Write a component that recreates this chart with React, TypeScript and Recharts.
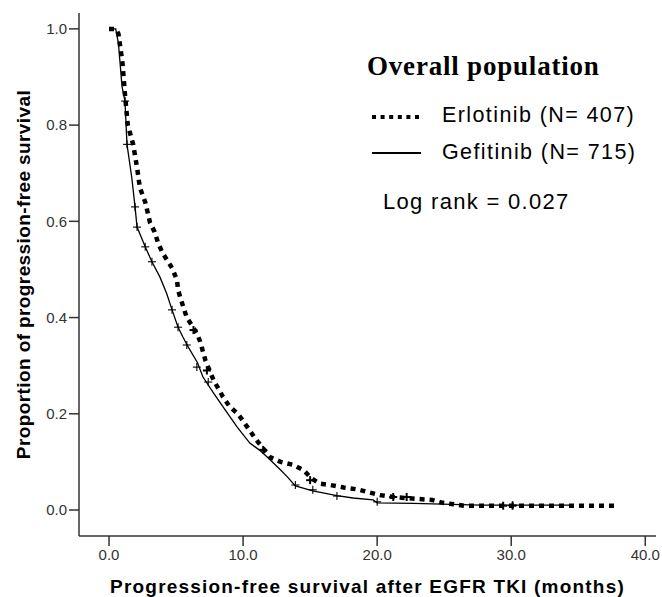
import { ComposedChart, Line, Scatter, XAxis, YAxis } from "recharts";

// Kaplan-Meier estimates (months, proportion)
const erlotinibTime = [
  0, 0.5, 0.7, 0.85, 1.0, 1.2, 1.4, 1.6, 1.8, 2.1, 2.3, 2.7, 3.06, 3.4, 3.66, 4.0, 4.7, 5.07,
  5.15, 5.45, 5.8, 6.27, 6.6, 6.8, 7.2, 7.5, 7.8, 8.2, 8.5, 9.0, 9.6, 10.0, 10.5, 11.0, 11.3,
  12.0, 12.8, 13.7, 14.5, 15.1, 15.7, 16.5, 17.5, 18.5, 19.2, 20.2, 21.2, 23.0, 24.1, 24.9,
  26.5, 37.8,
];
const erlotinibSurv = [
  1.0, 1.0, 0.99, 0.96, 0.93, 0.86, 0.8, 0.78, 0.76, 0.71, 0.67, 0.64, 0.597, 0.578, 0.555,
  0.534, 0.503, 0.478, 0.457, 0.43, 0.4, 0.38, 0.364, 0.35, 0.31, 0.29, 0.27, 0.25, 0.235,
  0.215, 0.2, 0.185, 0.165, 0.145, 0.135, 0.11, 0.1, 0.094, 0.083, 0.066, 0.055, 0.052,
  0.047, 0.043, 0.038, 0.031, 0.027, 0.023, 0.021, 0.015, 0.009, 0.009,
];
const erlotinibCensorTime = [6.3, 7.3, 11.5, 15.0, 21.2, 22.2, 29.4, 30.1];
const erlotinibCensorSurv = [0.374, 0.29, 0.125, 0.062, 0.027, 0.027, 0.009, 0.009];

const gefitinibTime = [
  0, 0.5, 0.7, 0.97, 1.19, 1.34, 1.7, 1.94, 2.09, 2.7, 3.2, 3.8, 4.3, 4.7, 5.15, 5.5, 5.9,
  6.6, 7.0, 7.8, 8.66, 9.55, 10.5, 11.2, 11.8, 12.8, 13.3, 13.9, 15.2, 17.0, 18.2, 19.7,
  20.0, 22.7, 27.7, 34.6,
];
const gefitinibSurv = [
  1.0, 1.0, 0.97, 0.88, 0.85, 0.76, 0.69, 0.63, 0.588, 0.547, 0.516, 0.484, 0.45, 0.416,
  0.38, 0.36, 0.339, 0.306, 0.277, 0.243, 0.208, 0.173, 0.139, 0.125, 0.11, 0.083, 0.069,
  0.05, 0.04, 0.03, 0.025, 0.021, 0.015, 0.014, 0.01, 0.01,
];
const gefitinibCensorTime = [1.2, 1.34, 1.94, 2.09, 2.7, 3.2, 4.7, 5.15, 5.8, 6.55, 7.4, 13.9, 15.2, 17.0, 20.0, 30.1];
const gefitinibCensorSurv = [0.85, 0.76, 0.63, 0.588, 0.547, 0.516, 0.416, 0.38, 0.343, 0.297, 0.266, 0.052, 0.042, 0.029, 0.017, 0.01];

const xTicks = [0, 10, 20, 30, 40];
const yTicks = [0, 0.2, 0.4, 0.6, 0.8, 1.0];

const zip = (t: number[], s: number[]) => t.map((v, i) => ({ t: v, s: s[i] }));

const erlotinib = zip(erlotinibTime, erlotinibSurv);
const gefitinib = zip(gefitinibTime, gefitinibSurv);
const erlotinibCensor = zip(erlotinibCensorTime, erlotinibCensorSurv);
const gefitinibCensor = zip(gefitinibCensorTime, gefitinibCensorSurv);

const axisColor = "#333";
const tickStyle = { fontSize: 15, fill: "#333", fontFamily: "Liberation Sans, Arial, sans-serif" };

function Plus(props: any) {
  const { cx, cy, size = 4, width = 1.2 } = props;
  if (cx == null || cy == null) return null;
  return (
    <g stroke="#000" strokeWidth={width}>
      <line x1={cx - size} y1={cy} x2={cx + size} y2={cy} />
      <line x1={cx} y1={cy - size} x2={cx} y2={cy + size} />
    </g>
  );
}

export default function App() {
  return (
    <div
      style={{
        position: "absolute",
        left: 0,
        top: 0,
        width: 662,
        height: 597,
        background: "#fff",
        fontFamily: "Liberation Sans, Arial, sans-serif",
      }}
    >
      <ComposedChart width={662} height={597} margin={{ top: 13, right: 6, bottom: 0, left: 19 }}>
        <XAxis
          dataKey="t"
          type="number"
          domain={[-2.24, 40.8]}
          ticks={xTicks}
          allowDataOverflow
          tickFormatter={(v: number) => v.toFixed(1)}
          tick={tickStyle}
          tickSize={10}
          tickMargin={3}
          height={61}
          stroke={axisColor}
          axisLine={{ stroke: axisColor, strokeWidth: 1.5 }}
          tickLine={{ stroke: axisColor, strokeWidth: 1.5 }}
          label={{
            value: "Progression-free survival after EGFR TKI (months)",
            position: "insideBottom",
            offset: 4,
            style: { fontSize: 19, fontWeight: "bold", fill: "#000", letterSpacing: 1.2 },
          }}
        />
        <YAxis
          dataKey="s"
          type="number"
          domain={[-0.054, 1.033]}
          ticks={yTicks}
          allowDataOverflow
          tickFormatter={(v: number) => v.toFixed(1)}
          tick={tickStyle}
          tickSize={10}
          tickMargin={2}
          width={60}
          stroke={axisColor}
          axisLine={{ stroke: axisColor, strokeWidth: 1.5 }}
          tickLine={{ stroke: axisColor, strokeWidth: 1.5 }}
          label={{
            value: "Proportion of progression-free survival",
            angle: -90,
            position: "insideLeft",
            offset: 4,
            style: { fontSize: 19, fontWeight: "bold", fill: "#000", textAnchor: "middle", letterSpacing: 0.4 },
          }}
        />
        <Line
          data={gefitinib}
          dataKey="s"
          type="linear"
          stroke="#000"
          strokeWidth={1.3}
          dot={false}
          activeDot={false}
          isAnimationActive={false}
        />
        <Line
          data={erlotinib}
          dataKey="s"
          type="linear"
          stroke="#000"
          strokeWidth={4.5}
          strokeDasharray="5 5"
          dot={false}
          activeDot={false}
          isAnimationActive={false}
        />
        <Scatter
          data={gefitinibCensor}
          dataKey="s"
          shape={(p: any) => <Plus {...p} size={4} width={1.1} />}
          isAnimationActive={false}
        />
        <Scatter
          data={erlotinibCensor}
          dataKey="s"
          shape={(p: any) => <Plus {...p} size={4} width={2} />}
          isAnimationActive={false}
        />
      </ComposedChart>

      <div
        style={{
          position: "absolute",
          left: 367,
          top: 50,
          fontFamily: "Liberation Serif, Times New Roman, serif",
          fontWeight: "bold",
          fontSize: 27,
          letterSpacing: 0.8,
          lineHeight: "32px",
          whiteSpace: "nowrap",
        }}
      >
        Overall population
      </div>
      <svg style={{ position: "absolute", left: 0, top: 0 }} width={662} height={200}>
        <line x1={372} y1={117} x2={420} y2={117} stroke="#000" strokeWidth={4} strokeDasharray="4 4.6" />
        <line x1={372} y1={153} x2={421} y2={153} stroke="#000" strokeWidth={1.8} />
      </svg>
      <div style={{ position: "absolute", left: 442, top: 101, fontSize: 21.5, letterSpacing: 1.4, lineHeight: "28px", whiteSpace: "nowrap" }}>
        Erlotinib (N= 407)
      </div>
      <div style={{ position: "absolute", left: 442, top: 138, fontSize: 21.5, letterSpacing: 1.4, lineHeight: "28px", whiteSpace: "nowrap" }}>
        Gefitinib (N= 715)
      </div>
      <div style={{ position: "absolute", left: 383, top: 187, fontSize: 22, letterSpacing: 1.3, lineHeight: "30px", whiteSpace: "nowrap" }}>
        Log rank = 0.027
      </div>
    </div>
  );
}
